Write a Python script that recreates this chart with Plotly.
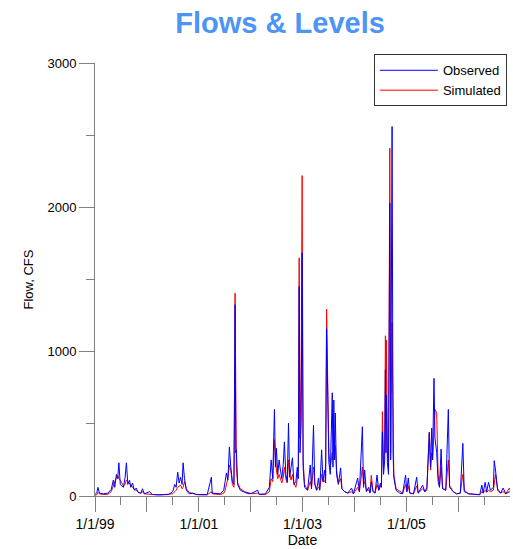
import plotly.graph_objects as go

dates = [
 "1999-01-01","1999-01-14","1999-01-22","1999-02-01","1999-03-01","1999-04-01","1999-04-25","1999-05-10","1999-05-20","1999-06-01",
 "1999-06-10","1999-06-18","1999-06-28","1999-07-08","1999-07-20","1999-08-01","1999-08-10","1999-08-20","1999-09-01","1999-09-10",
 "1999-09-22","1999-10-05","1999-10-18","1999-11-01","1999-11-20","1999-12-01","1999-12-15","2000-01-20","2000-02-10","2000-04-01",
 "2000-06-01","2000-07-01","2000-07-15","2000-07-25","2000-08-05","2000-08-15","2000-08-25","2000-09-05","2000-09-12","2000-09-22",
 "2000-10-05","2000-10-25","2000-11-20","2000-12-15","2001-01-15","2001-03-01","2001-03-30","2001-04-05","2001-06-01","2001-06-25",
 "2001-07-05","2001-07-14","2001-07-24","2001-08-04","2001-08-14","2001-08-25","2001-09-05","2001-09-13","2001-09-18","2001-09-22",
 "2001-10-01","2001-10-20","2001-11-20","2001-12-20","2002-01-10","2002-02-19","2002-03-01","2002-04-15","2002-05-12","2002-05-25",
 "2002-06-05","2002-06-17","2002-06-24","2002-07-01","2002-07-10","2002-07-20","2002-07-29","2002-08-08","2002-08-18","2002-08-26",
 "2002-09-05","2002-09-15","2002-09-24","2002-10-02","2002-10-12","2002-10-22","2002-11-01","2002-11-15","2002-11-25","2002-12-02",
 "2002-12-08","2002-12-14","2002-12-22","2002-12-29","2003-01-05","2003-01-15","2003-02-05","2003-02-24","2003-03-05","2003-03-19",
 "2003-03-28","2003-04-10","2003-04-23","2003-05-02","2003-05-15","2003-05-25","2003-06-05","2003-06-12","2003-06-19","2003-06-28",
 "2003-07-05","2003-07-15","2003-07-29","2003-08-03","2003-08-09","2003-08-14","2003-08-19","2003-08-28","2003-09-10","2003-09-26",
 "2003-10-05","2003-10-24","2003-11-15","2003-12-12","2003-12-25","2004-01-24","2004-02-05","2004-02-26","2004-03-05","2004-03-13",
 "2004-03-25","2004-04-10","2004-04-20","2004-04-29","2004-05-10","2004-05-25","2004-06-08","2004-06-20","2004-07-02","2004-07-09",
 "2004-07-16","2004-07-24","2004-08-01","2004-08-06","2004-08-10","2004-08-13","2004-08-20","2004-08-28","2004-09-06","2004-09-12",
 "2004-09-22","2004-09-29","2004-10-04","2004-10-20","2004-11-15","2004-12-05","2004-12-26","2005-01-04","2005-01-14","2005-01-25",
 "2005-02-20","2005-03-14","2005-03-25","2005-04-25","2005-05-10","2005-05-25","2005-06-11","2005-06-20","2005-06-28","2005-07-04",
 "2005-07-09","2005-07-14","2005-07-21","2005-08-02","2005-08-12","2005-08-22","2005-09-02","2005-09-12","2005-10-05","2005-10-23",
 "2005-11-01","2005-11-27","2005-12-20","2006-01-15","2006-02-02","2006-02-12","2006-03-15","2006-05-01","2006-06-01","2006-06-16",
 "2006-06-25","2006-07-09","2006-07-20","2006-08-02","2006-08-15","2006-09-05","2006-09-11","2006-09-20","2006-10-05","2006-10-25",
 "2006-11-13","2006-12-01","2006-12-26","2007-01-10",
]

observed = [
 10,25,60,20,15,20,45,110,60,150,
 120,230,80,70,60,130,230,80,110,60,
 90,40,55,25,20,50,15,30,10,8,
 10,30,80,60,165,90,130,80,230,120,
 40,15,20,10,8,10,130,20,15,40,
 100,160,110,340,200,100,80,1325,300,320,
 80,40,25,15,20,40,12,15,60,250,
 120,600,200,330,150,250,180,120,220,375,
 150,100,505,130,200,265,80,100,200,120,
 1450,300,500,1685,200,60,40,215,50,490,
 80,40,125,40,320,100,180,90,1160,400,
 235,150,715,200,665,250,575,150,80,195,
 50,30,20,55,15,125,30,480,60,180,
 30,60,20,100,30,20,145,40,90,60,
 445,150,250,875,300,700,230,150,2030,250,
 2560,300,130,40,20,15,145,30,125,20,
 15,130,20,75,30,60,440,200,470,250,
 560,815,400,300,100,60,325,50,40,600,
 60,30,15,20,365,30,15,10,10,75,
 20,95,30,95,40,60,245,180,40,20,
 55,15,30,15,
]

simulated = [
 5,10,25,15,10,12,30,70,100,130,
 140,120,110,90,70,80,110,100,85,70,
 60,45,40,25,20,30,15,15,10,8,
 10,15,30,40,60,70,75,50,60,100,
 50,25,15,10,8,8,30,15,10,20,
 40,80,120,215,180,80,60,1405,250,200,
 90,50,30,20,15,20,10,10,30,120,
 100,390,250,180,120,150,120,90,130,200,
 120,90,250,150,110,150,90,60,120,200,
 1650,400,850,2220,250,80,40,100,60,200,
 90,40,60,50,150,100,100,120,1295,770,
 300,200,300,250,450,300,350,180,90,120,
 50,30,20,30,15,60,30,200,80,100,
 40,40,30,145,40,20,80,40,60,80,
 585,200,350,1110,500,1080,300,200,2410,300,
 1200,250,150,50,30,20,80,30,70,20,
 15,70,20,50,30,40,440,180,300,250,
 350,500,600,575,150,70,200,60,40,250,
 70,30,15,20,150,40,15,10,8,30,
 20,40,25,40,30,40,100,150,50,20,
 30,15,55,20,
]

x_tickvals = ["1999-01-01","2000-01-01","2001-01-01","2002-01-01","2003-01-01",
              "2004-01-01","2005-01-01","2006-01-01"]
x_ticktext = ["1/1/99","","1/1/01","","1/1/03","","1/1/05",""]
y_tickvals = [0, 1000, 2000, 3000]

fig = go.Figure()
fig.add_trace(go.Scatter(x=dates, y=simulated, mode="lines", name="Simulated",
                         line=dict(color="#ff0000", width=1)))
fig.add_trace(go.Scatter(x=dates, y=observed, mode="lines", name="Observed",
                         line=dict(color="#0000ff", width=1)))

font = "Liberation Sans, Arial, sans-serif"
fig.update_layout(
    width=513, height=549,
    margin=dict(l=95, r=3, t=63, b=53),
    paper_bgcolor="white", plot_bgcolor="white",
    font=dict(family=font, size=13, color="black"),
    title=dict(text="<b>Flows & Levels</b>", x=0.546, xref="container", xanchor="center",
               y=0.958, yref="container", yanchor="middle",
               font=dict(family=font, size=29, color="#4d94f5")),
    showlegend=True,
    legend=dict(x=0.672, y=1.02, xanchor="left", yanchor="top",
                traceorder="reversed", bordercolor="#333333", borderwidth=1,
                bgcolor="white", font=dict(size=13), tracegroupgap=0,
                itemwidth=58),
    xaxis=dict(type="date", range=["1999-01-01", "2006-12-31"],
               tickmode="array", tickvals=x_tickvals, ticktext=x_ticktext,
               ticks="outside", ticklen=15, tickcolor="#808080", tickwidth=1,
               showline=True, linecolor="#808080", linewidth=1,
               showgrid=False, zeroline=False,
               minor=dict(tick0="1999-01-01", dtick="M6", ticks="outside",
                          ticklen=8, tickcolor="#808080", showgrid=False),
               title=dict(text="Date", standoff=2, font=dict(size=14)),
               tickfont=dict(size=14)),
    yaxis=dict(range=[0, 3000], tickmode="array", tickvals=y_tickvals,
               ticks="outside", ticklen=15, tickcolor="#808080", tickwidth=1,
               showline=True, linecolor="#808080", linewidth=1,
               showgrid=False, zeroline=False,
               minor=dict(dtick=500, ticks="outside", ticklen=8,
                          tickcolor="#808080", showgrid=False),
               title=dict(text="Flow, CFS", standoff=10, font=dict(size=13)),
               tickfont=dict(size=13)),
)

fig.write_html("out.html")
